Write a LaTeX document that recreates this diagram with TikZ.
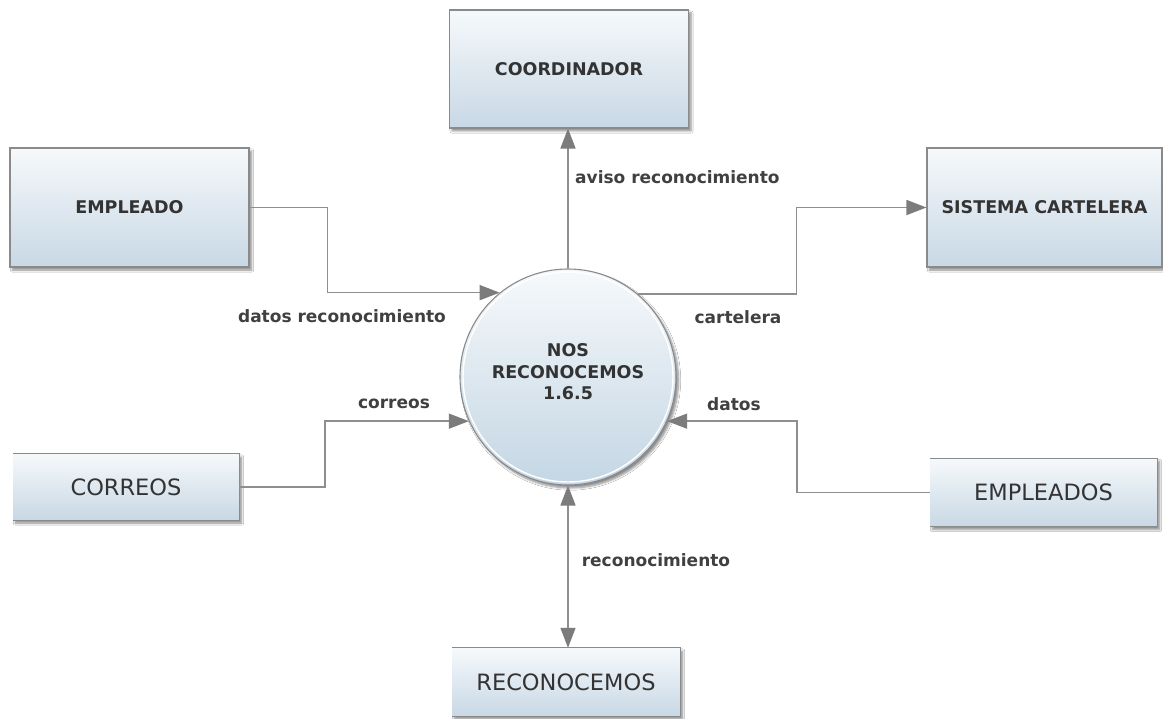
\documentclass[tikz,border=0pt]{standalone}
\usepackage{fontspec}
\setmainfont{DejaVu Sans}
\usetikzlibrary{arrows.meta,shadows.blur,calc}
\definecolor{boxtop}{HTML}{F6F9FB}
\definecolor{boxbot}{HTML}{C8D8E5}
\definecolor{circbot}{HTML}{C4D6E4}
\definecolor{boxline}{HTML}{8A8A8A}
\definecolor{ink}{HTML}{333333}
\definecolor{labink}{HTML}{404040}
\definecolor{wire}{HTML}{8E8E8E}
\definecolor{tipgray}{HTML}{7C7C7C}
\begin{document}
\begin{tikzpicture}[x=1pt,y=-1pt,
  shade/.style={blur shadow={shadow xshift=2.5pt,shadow yshift=-3pt,shadow blur steps=6,shadow opacity=45}},
  entity/.style={rectangle,draw=boxline,line width=1.1pt,top color=boxtop,bottom color=boxbot,
    text=ink,font=\bfseries\fontsize{17.5}{20}\selectfont,inner sep=0,shade},
  store/.style={rectangle,top color=boxtop,bottom color=boxbot,text=ink,
    font=\fontsize{22.5}{26}\selectfont,inner sep=0,shade},
  storeline/.style={draw=boxline,line width=1.3pt},
  process/.style={circle,draw=boxline,line width=1.1pt,top color=boxtop,bottom color=circbot,
    inner sep=0,minimum size=216pt,shade},
  proctxt/.style={text=ink,font=\bfseries\fontsize{17.5}{21.5}\selectfont,align=center,inner sep=0},
  flow/.style={draw=wire,line width=1.5pt,-{Triangle[length=20pt,width=15pt,color=tipgray]}},
  bothflow/.style={draw=wire,line width=1.5pt,{Triangle[length=20pt,width=15pt,color=tipgray]}-{Triangle[length=20pt,width=15pt,color=tipgray]}},
  lab/.style={text=labink,font=\bfseries\fontsize{17}{20}\selectfont,inner sep=0}
]
\useasboundingbox (0,0) rectangle (1163,719);
\fill[white] (0,0) rectangle (1163,719);

% external entities
\node[entity,minimum width=239pt,minimum height=118pt] (coord) at (569,69) {COORDINADOR};
\node[entity,minimum width=239pt,minimum height=119pt] (emp) at (129.5,207.5) {EMPLEADO};
\node[entity,minimum width=235pt,minimum height=119pt] (cart) at (1044.5,207.5) {SISTEMA CARTELERA};

% central process
\node[process] (proc) at (568,377) {};
\draw[white,line width=1.4pt] (proc.center) circle (105pt);
\node[proctxt] (ptext) at (568,372) {NOS\\RECONOCEMOS\\1.6.5};

% data stores, open on the left
\node[store,minimum width=226pt,minimum height=66pt] (corr) at (126,487) {CORREOS};
\draw[storeline] (corr.north west) -- (corr.north east) -- (corr.south east) -- (corr.south west);
\node[store,minimum width=227pt,minimum height=68pt] (emps) at (1043.5,492.5) {EMPLEADOS};
\draw[storeline] (emps.north west) -- (emps.north east) -- (emps.south east) -- (emps.south west);
\node[store,minimum width=228pt,minimum height=68pt] (reco) at (566,682) {RECONOCEMOS};
\draw[storeline] (reco.north west) -- (reco.north east) -- (reco.south east) -- (reco.south west);

% data flows
\draw[flow] (emp.east) -- ++(78,0) |- (proc.129);
\draw[flow] (proc.north) -- (proc.north |- coord.south);
\draw[flow] (proc.50) -| ($(cart.west)+(-130,0)$) -- (cart.west);
\draw[flow] (corr.east) -- ++(86,0) |- (proc.204);
\draw[flow] (emps.west) -- ++(-133,0) |- (proc.336);
\draw[bothflow] (proc.south) -- (proc.south |- reco.north);

% flow labels
\node[lab,anchor=west] (l1) at (575,177) {aviso reconocimiento};
\node[lab] (l2) at (342,316) {datos reconocimiento};
\node[lab] (l3) at (738,317) {cartelera};
\node[lab] (l4) at (394,404) {correos};
\node[lab] (l5) at (734,404) {datos};
\node[lab] (l6) at (656,560) {reconocimiento};
\end{tikzpicture}
\end{document}
